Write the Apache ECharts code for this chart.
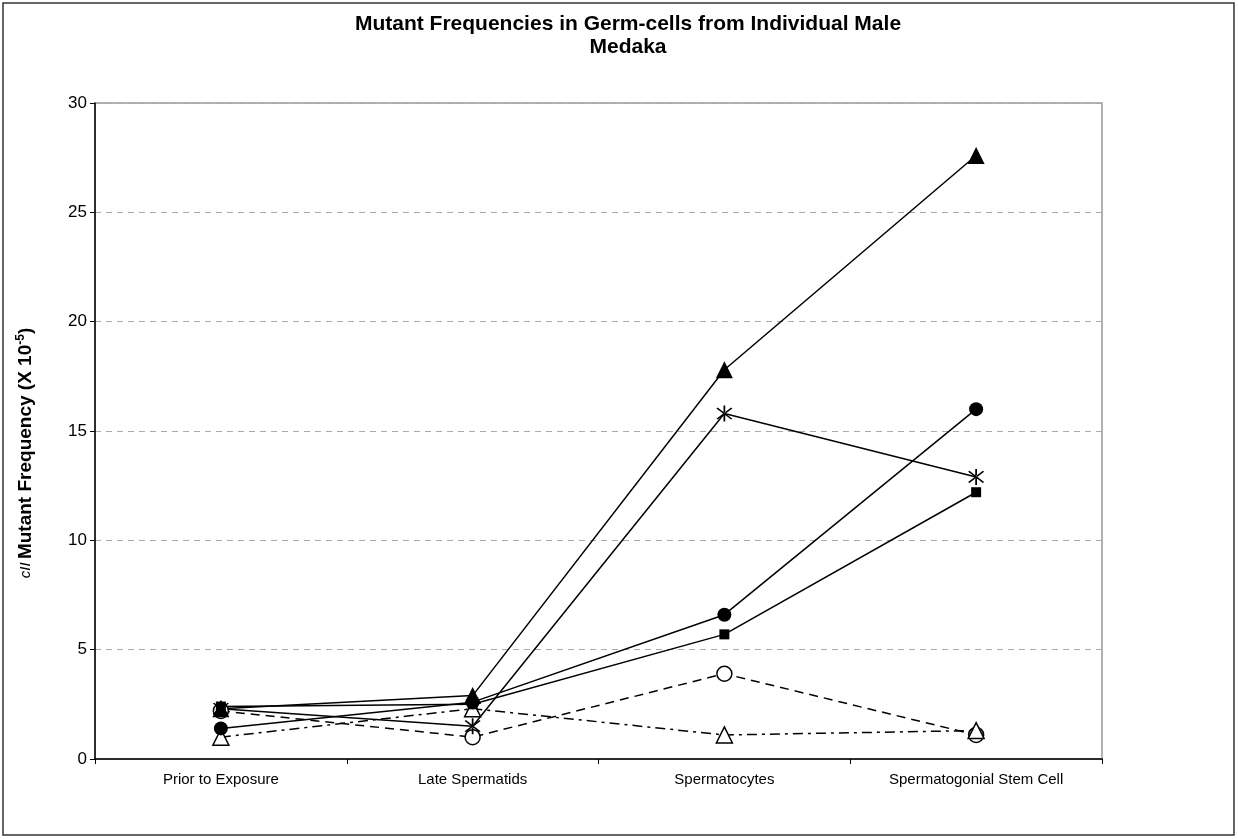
<!DOCTYPE html>
<html>
<head>
<meta charset="utf-8">
<script src="https://cdn.jsdelivr.net/npm/echarts@6/dist/echarts.min.js"></script>
<style>
  html, body { margin: 0; padding: 0; background: #fff; }
  #chart { width: 1238px; height: 839px; }
</style>
</head>
<body>
<div id="chart"></div>
<script>
// categories along the x axis
const stages = ['Prior to Exposure', 'Late Spermatids', 'Spermatocytes', 'Spermatogonial Stem Cell']

// one array per fish (x 10^-5)
const fishTriangle = [2.3, 2.9, 17.8, 27.6]
const fishCircle = [1.4, 2.6, 6.6, 16.0]
const fishStar = [2.3, 1.5, 15.8, 12.9]
const fishSquare = [2.4, 2.5, 5.7, 12.2]
const fishOpenCircle = [2.2, 1.0, 3.9, 1.1]
const fishOpenTriangle = [1.0, 2.3, 1.1, 1.3]

const yTicks = [0, 5, 10, 15, 20, 25, 30]

// asterisk marker: vertical bar + two diagonals
const starPath = 'path://M-0.9,-10L0.9,-10L0.9,10L-0.9,10Z' +
  'M-8.2,-6.4L-6.9,-7.6L8.2,6.4L6.9,7.6Z' +
  'M8.2,-6.4L6.9,-7.6L-8.2,6.4L-6.9,7.6Z'

const font = 'Liberation Sans, Arial'
const chart = echarts.init(document.getElementById('chart'))

function lineSeries(data, symbol, size, filled, dash) {
  return {
    type: 'line',
    data: data,
    symbol: symbol,
    symbolSize: size,
    showAllSymbol: true,
    z: 3,
    itemStyle: {
      color: filled ? '#000' : '#fff',
      borderColor: '#000',
      borderWidth: filled ? 0 : 1.5
    },
    lineStyle: { color: '#000', width: 1.5, type: dash || 'solid' },
    emphasis: { disabled: true }
  }
}

const option = {
  animation: false,
  title: {
    text: 'Mutant Frequencies in Germ-cells from Individual Male\nMedaka',
    left: 623,
    textAlign: 'center',
    top: 8,
    textStyle: {
      fontFamily: font,
      fontSize: 21,
      fontWeight: 'bold',
      color: '#000',
      lineHeight: 23
    }
  },
  graphic: [{
    type: 'rect',
    shape: { x: 3, y: 3, width: 1231, height: 832 },
    style: { fill: 'none', stroke: '#333', lineWidth: 1.5 },
    silent: true
  }],
  grid: {
    left: 95, right: 136, top: 103, bottom: 80,
    show: true,
    borderColor: '#999',
    borderWidth: 1.5,
    backgroundColor: '#fff'
  },
  xAxis: {
    type: 'category',
    data: stages,
    boundaryGap: true,
    axisLine: { lineStyle: { color: '#000', width: 1.5 } },
    axisTick: { show: true, length: 5, lineStyle: { color: '#000' } },
    axisLabel: {
      color: '#000',
      fontFamily: font,
      fontSize: 15,
      margin: 13
    }
  },
  yAxis: {
    type: 'value',
    min: yTicks[0],
    max: yTicks[yTicks.length - 1],
    interval: 5,
    name: '{i|cII} {b|Mutant Frequency (X 10}{sup|-5}{b|)}',
    nameLocation: 'middle',
    nameGap: 58,
    nameRotate: 90,
    nameTextStyle: {
      padding: [0, 44, 0, 0],
      rich: {
        i: { fontFamily: font, fontStyle: 'italic', fontSize: 15, color: '#000' },
        b: { fontFamily: font, fontWeight: 'bold', fontSize: 19, color: '#000' },
        sup: { fontFamily: font, fontWeight: 'bold', fontSize: 12, color: '#000', verticalAlign: 'top', padding: [0, 0, 10, 0] }
      }
    },
    axisLine: { show: true, lineStyle: { color: '#000', width: 1.5 } },
    axisTick: { show: true, length: 5, lineStyle: { color: '#000' } },
    axisLabel: {
      color: '#000',
      fontFamily: font,
      fontSize: 17,
      margin: 8
    },
    splitLine: { lineStyle: { color: '#aaa', type: [6, 5], width: 1 } }
  },
  series: [
    lineSeries(fishOpenCircle, 'circle', 15, false, [9, 6]),
    lineSeries(fishOpenTriangle, 'triangle', 16, false, [10, 5, 3, 5]),
    lineSeries(fishSquare, 'rect', 10, true),
    lineSeries(fishCircle, 'circle', 14, true),
    lineSeries(fishStar, starPath, 16, true),
    lineSeries(fishTriangle, 'triangle', 17, true)
  ]
}

chart.setOption(option)
</script>
</body>
</html>
